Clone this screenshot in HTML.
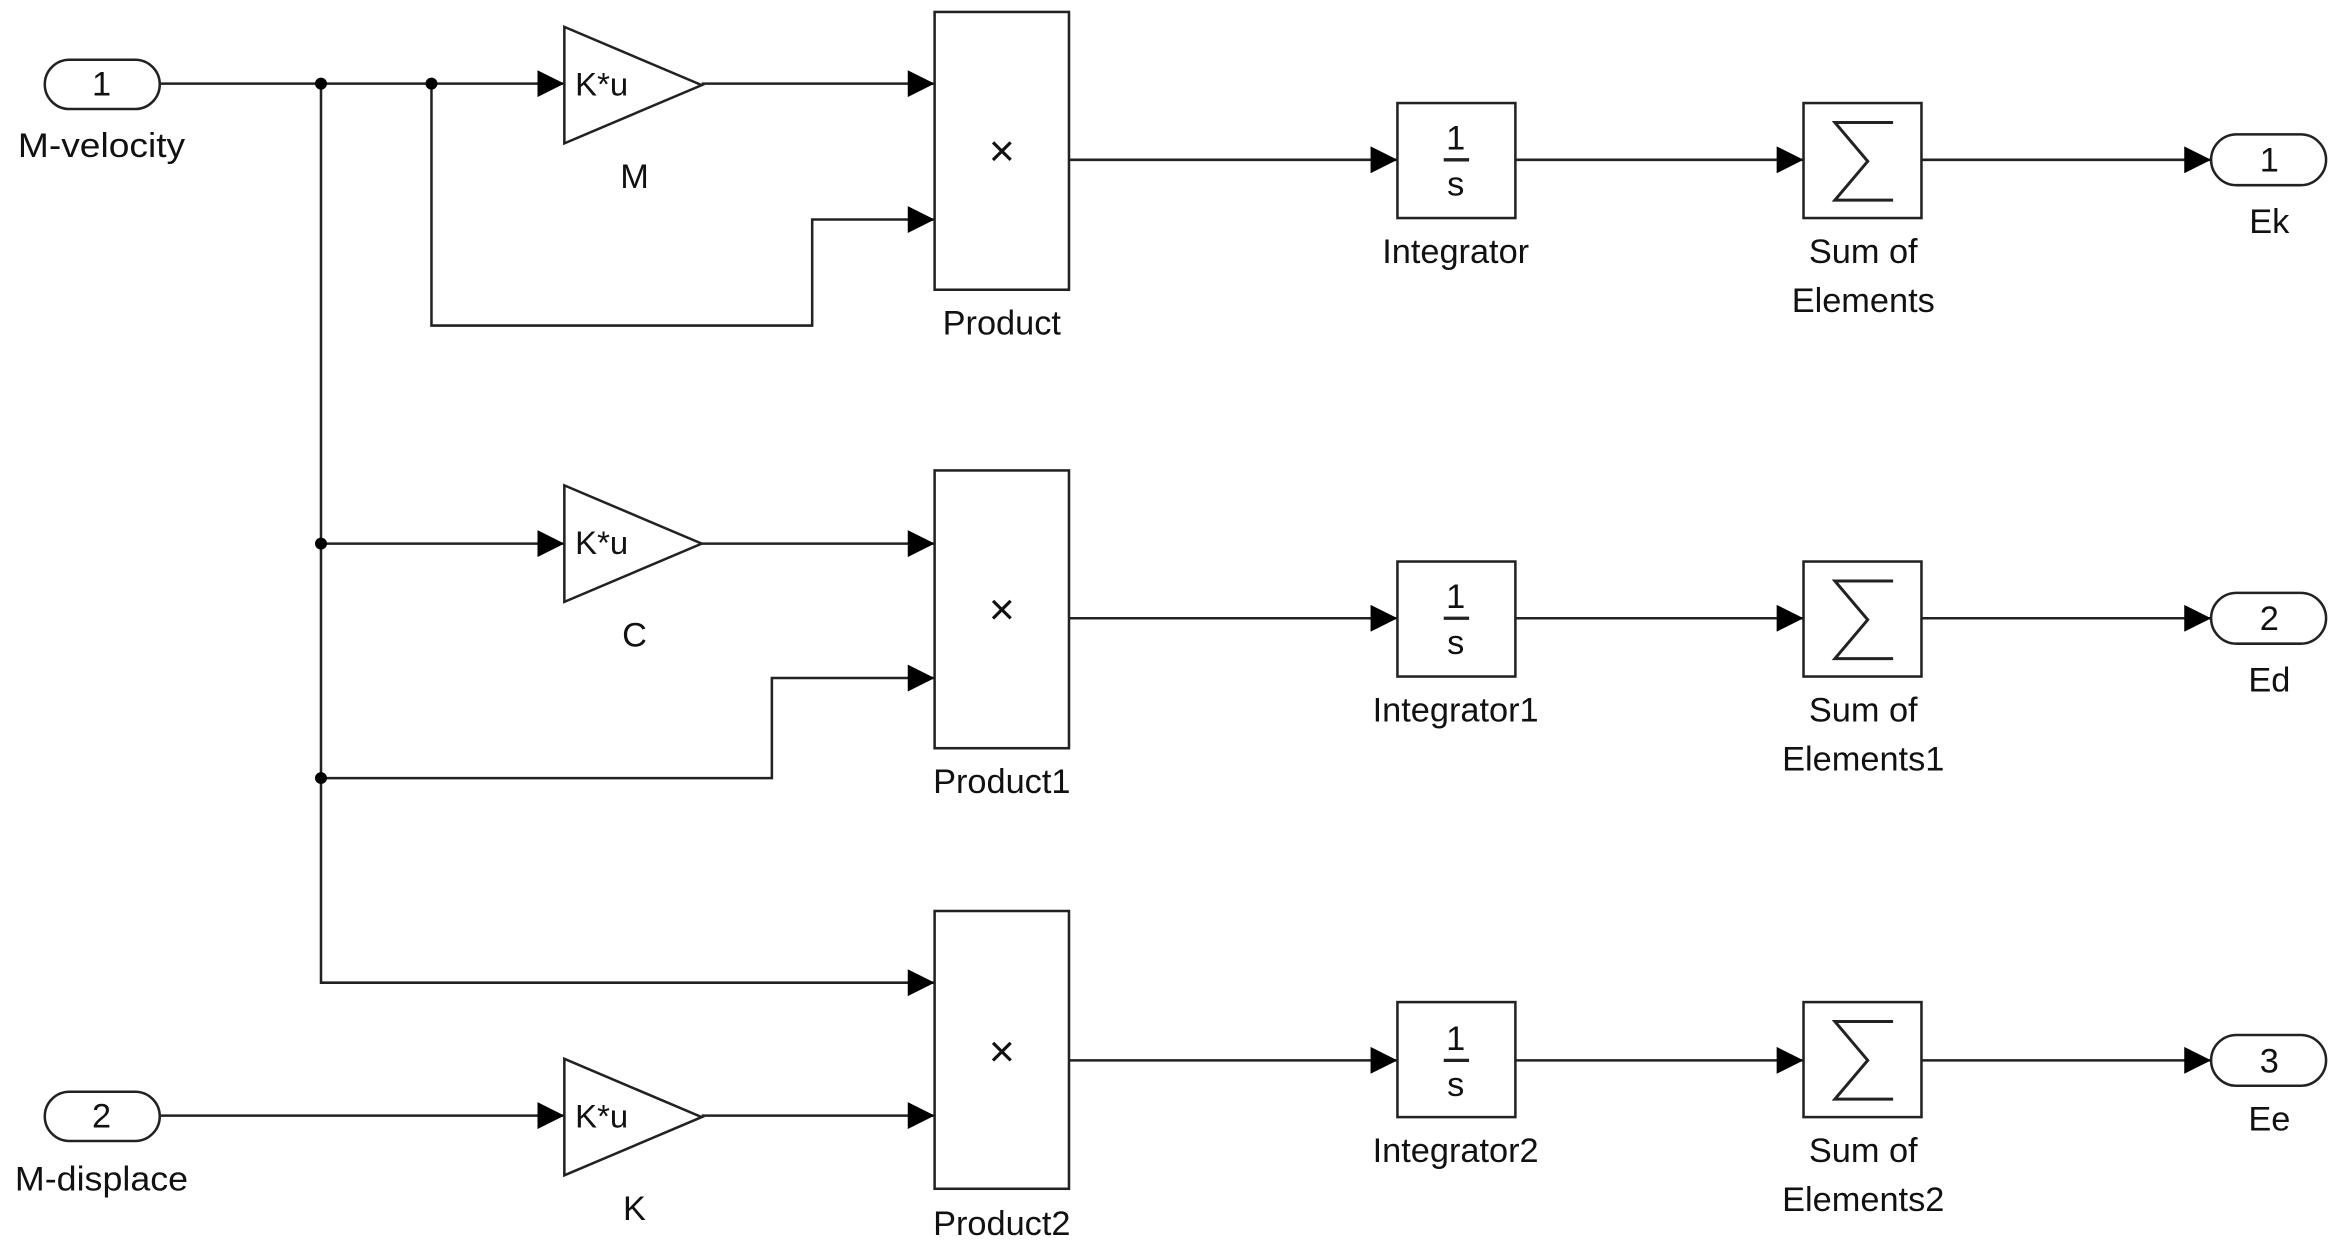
<!DOCTYPE html>
<html><head><meta charset="utf-8"><style>
html,body{margin:0;padding:0;background:#fff;}
svg{display:block;}
text{font-family:"Liberation Sans",Arial,sans-serif;fill:#111;}
</style></head><body>
<svg width="2341" height="1253" viewBox="0 0 1568 839" preserveAspectRatio="none" xmlns="http://www.w3.org/2000/svg">
<defs>
<marker id="a" markerWidth="18" markerHeight="18" refX="18" refY="9" orient="auto" markerUnits="userSpaceOnUse"><path d="M0,0 L18,9 L0,18 z" fill="#000"/></marker>
</defs>
<g stroke="#222" stroke-width="1.7" fill="none">
<line x1="107" y1="56" x2="378" y2="56" marker-end="url(#a)"/>
<line x1="470" y1="56" x2="626" y2="56" marker-end="url(#a)"/>
<polyline points="289,56 289,218 544,218 544,147 626,147" marker-end="url(#a)"/>
<line x1="716" y1="107" x2="936" y2="107" marker-end="url(#a)"/>
<line x1="1015" y1="107" x2="1208" y2="107" marker-end="url(#a)"/>
<line x1="1287" y1="107" x2="1481" y2="107" marker-end="url(#a)"/>
<polyline points="215,56 215,658 626,658" marker-end="url(#a)"/>
<line x1="215" y1="364" x2="378" y2="364" marker-end="url(#a)"/>
<line x1="470" y1="364" x2="626" y2="364" marker-end="url(#a)"/>
<polyline points="215,521 517,521 517,454 626,454" marker-end="url(#a)"/>
<line x1="716" y1="414" x2="936" y2="414" marker-end="url(#a)"/>
<line x1="1015" y1="414" x2="1208" y2="414" marker-end="url(#a)"/>
<line x1="1287" y1="414" x2="1481" y2="414" marker-end="url(#a)"/>
<line x1="107" y1="747" x2="378" y2="747" marker-end="url(#a)"/>
<line x1="470" y1="747" x2="626" y2="747" marker-end="url(#a)"/>
<line x1="716" y1="710" x2="936" y2="710" marker-end="url(#a)"/>
<line x1="1015" y1="710" x2="1208" y2="710" marker-end="url(#a)"/>
<line x1="1287" y1="710" x2="1481" y2="710" marker-end="url(#a)"/>
</g>
<g fill="#000">
<circle cx="215" cy="56" r="4"/><circle cx="289" cy="56" r="4"/>
<circle cx="215" cy="364" r="4"/><circle cx="215" cy="521" r="4"/>
</g>
<g stroke="#222" stroke-width="1.7" fill="#fff">
<rect x="30" y="40" width="77" height="33" rx="16.5"/>
<rect x="30" y="731" width="77" height="33" rx="16.5"/>
<rect x="1481" y="90" width="77" height="34" rx="17"/>
<rect x="1481" y="397" width="77" height="34" rx="17"/>
<rect x="1481" y="693" width="77" height="34" rx="17"/>
<polygon points="378,18 470,57 378,96"/>
<polygon points="378,325 470,364 378,403"/>
<polygon points="378,709 470,748 378,787"/>
<rect x="626" y="8" width="90" height="186"/>
<rect x="626" y="315" width="90" height="186"/>
<rect x="626" y="610" width="90" height="186"/>
<rect x="936" y="69" width="79" height="77"/>
<rect x="936" y="376" width="79" height="77"/>
<rect x="936" y="671" width="79" height="77"/>
<rect x="1208" y="69" width="79" height="77"/>
<rect x="1208" y="376" width="79" height="77"/>
<rect x="1208" y="671" width="79" height="77"/>
</g>
<g stroke="#222" stroke-width="2" fill="none">
<polyline points="1268,82 1229,82 1251,108 1229,134 1268,134"/>
<polyline points="1268,389 1229,389 1251,415 1229,441 1268,441"/>
<polyline points="1268,684 1229,684 1251,710 1229,736 1268,736"/>
<line x1="967" y1="107" x2="984" y2="107" stroke-width="2.2"/>
<line x1="967" y1="414" x2="984" y2="414" stroke-width="2.2"/>
<line x1="967" y1="710" x2="984" y2="710" stroke-width="2.2"/>
</g>
<g font-size="23" text-anchor="middle">
<text x="68" y="64">1</text><text x="68" y="755">2</text>
<text x="1520" y="115">1</text><text x="1520" y="422">2</text><text x="1520" y="718">3</text>
<text x="68" y="105" textLength="112" lengthAdjust="spacingAndGlyphs">M-velocity</text>
<text x="68" y="797" textLength="116" lengthAdjust="spacingAndGlyphs">M-displace</text>
<text x="425" y="126">M</text><text x="425" y="433">C</text><text x="425" y="817">K</text>
<text x="403" y="64" font-size="22">K*u</text><text x="403" y="371" font-size="22">K*u</text><text x="403" y="755" font-size="22">K*u</text>
<text x="671" y="111" font-size="30">×</text><text x="671" y="418" font-size="30">×</text><text x="671" y="714" font-size="30">×</text>
<text x="671" y="224">Product</text><text x="671" y="531">Product1</text><text x="671" y="827">Product2</text>
<text x="975" y="100">1</text><text x="975" y="131">s</text>
<text x="975" y="407">1</text><text x="975" y="438">s</text>
<text x="975" y="703">1</text><text x="975" y="734">s</text>
<text x="975" y="176">Integrator</text><text x="975" y="483">Integrator1</text><text x="975" y="778">Integrator2</text>
<text x="1248" y="176">Sum of</text><text x="1248" y="209">Elements</text>
<text x="1248" y="483">Sum of</text><text x="1248" y="516">Elements1</text>
<text x="1248" y="778">Sum of</text><text x="1248" y="811">Elements2</text>
<text x="1520" y="156">Ek</text><text x="1520" y="463">Ed</text><text x="1520" y="757">Ee</text>
</g>
</svg>
</body></html>
